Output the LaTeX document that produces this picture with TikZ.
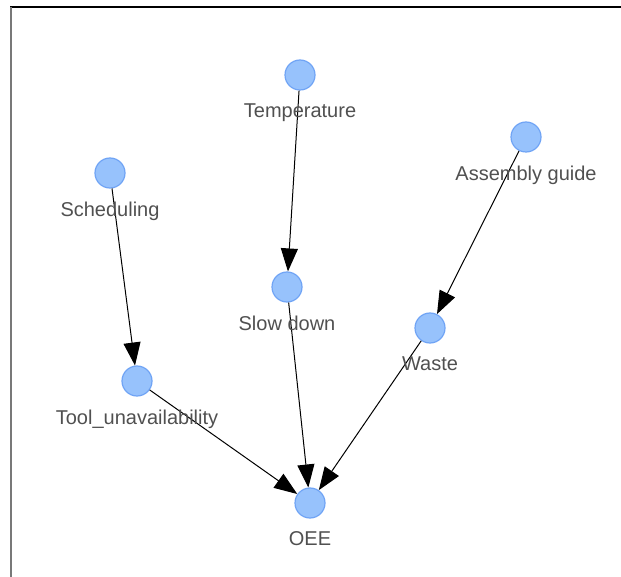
\documentclass[tikz,border=0pt]{standalone}
\usepackage{fontspec}
\setmainfont{Liberation Sans}
\usepackage{tikz}
\usetikzlibrary{arrows.meta}
\definecolor{nodefill}{RGB}{151,194,252}
\definecolor{nodeline}{RGB}{112,164,245}
\definecolor{labelgray}{RGB}{80,80,80}
\definecolor{framegray}{RGB}{120,120,120}

\begin{document}
\begin{tikzpicture}[x=1pt,y=-1pt,
    dot/.style={circle,fill=nodefill,draw=nodeline,line width=1.2pt,minimum size=30pt,inner sep=0pt},
    lbl/.style={font=\fontsize{20}{24}\selectfont,text=labelgray,inner sep=0pt},
    edge/.style={black,line width=1pt,-{Triangle[length=23pt,width=17pt]}}]
  % ---- frame ----
  \useasboundingbox (0,0) rectangle (621,577);
  \draw[black,line width=1.6pt] (10,7) -- (621,7);
  \draw[framegray,line width=2pt] (11,7) -- (11,577);

  % ---- nodes ----
  \foreach \n/\x/\y in {temp/300/75,sched/110/173,assem/526/137,slow/287/287,
                        waste/430/328,tool/137/381,oee/310/503}{
    \node[dot] (\n) at (\x,\y) {};
  }

  % ---- edges ----
  \draw[edge] (temp) -- (slow);
  \draw[edge] (sched) -- (tool);
  \draw[edge] (assem) -- (waste);
  \draw[edge] (slow) -- (oee);
  \draw[edge] (waste) -- (oee);
  \draw[edge] (tool) -- (oee);

  % ---- labels (drawn over the edges) ----
  \foreach \n/\txt in {temp/Temperature,sched/Scheduling,assem/Assembly guide,
                       slow/Slow down,waste/Waste,tool/Tool\_unavailability,oee/OEE}{
    \node[lbl,anchor=north] (\n-lbl) at ([yshift=-13pt]\n.south) {\txt};
  }
\end{tikzpicture}
\end{document}
